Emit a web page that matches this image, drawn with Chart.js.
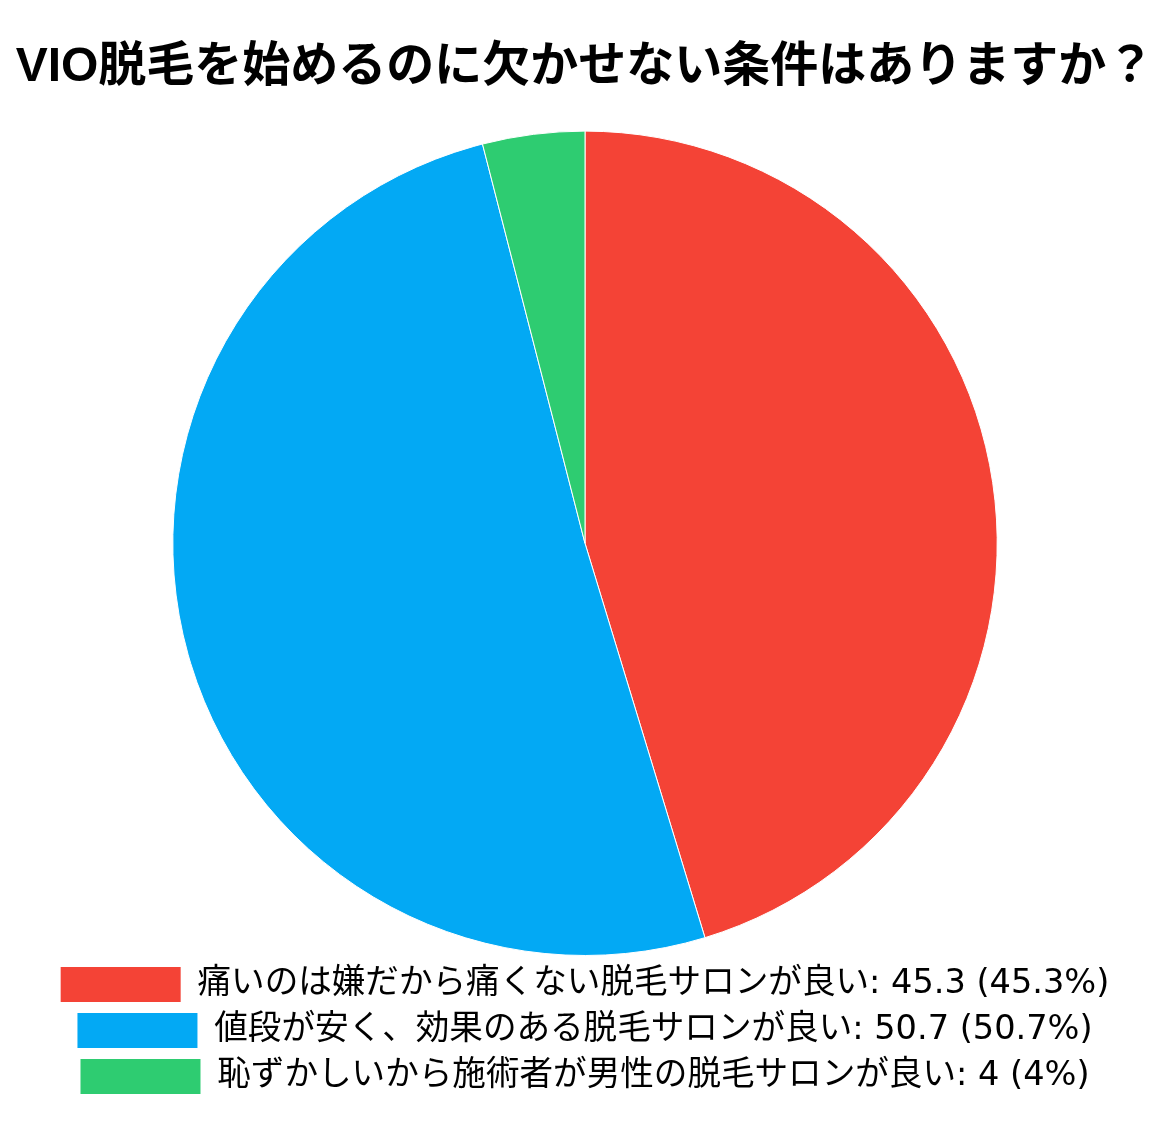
<!DOCTYPE html>
<html>
<head>
<meta charset="utf-8">
<script src="https://cdn.jsdelivr.net/npm/chart.js@4.4.0/dist/chart.umd.min.js"></script>
<style>
    html, body { margin: 0; padding: 0; background: #fff; }
    #wrap { width: 1170px; height: 1134px; }
</style>
</head>
<body>
<div id="wrap"><canvas id="pieChart" width="1170" height="1134"></canvas></div>
<script>
/* data */
const titleText = 'VIO脱毛を始めるのに欠かせない条件はありますか？';
const categories = [
    '痛いのは嫌だから痛くない脱毛サロンが良い',
    '値段が安く、効果のある脱毛サロンが良い',
    '恥ずかしいから施術者が男性の脱毛サロンが良い'
];
const values = [45.3, 50.7, 4];
const colours = ['#F44336', '#03A9F4', '#2ECC71'];

const TITLE_FONT = '"Liberation Sans", "Noto Sans CJK JP", sans-serif';
const LEGEND_FONT = '"DejaVu Sans", "Noto Sans CJK JP", sans-serif';

function legendLabels(chart) {
    const data = chart.data.datasets[0].data;
    const total = data.reduce((a, b) => a + b, 0);
    return chart.data.labels.map((label, i) => {
        const pct = Math.round(data[i] / total * 1000) / 10;
        return {
            text: `${label}: ${data[i]} (${pct}%)`,
            fillStyle: colours[i],
            strokeStyle: colours[i],
            lineWidth: 0,
            hidden: false,
            index: i
        };
    });
}

const ctx = document.getElementById('pieChart').getContext('2d');
new Chart(ctx, {
    type: 'pie',
    data: {
        labels: categories,
        datasets: [{
            data: values,
            backgroundColor: colours,
            borderColor: '#ffffff',
            borderWidth: 1
        }]
    },
    options: {
        responsive: false,
        animation: false,
        layout: { padding: { top: 0, bottom: 30 } },
        plugins: {
            title: {
                display: true,
                text: titleText,
                color: '#000',
                font: { family: TITLE_FONT, size: 48, weight: 'bold' },
                padding: { top: 39, bottom: 34 }
            },
            legend: {
                position: 'bottom',
                labels: {
                    generateLabels: legendLabels,
                    boxWidth: 120,
                    boxHeight: 35,
                    padding: 11,
                    color: '#111',
                    font: { family: LEGEND_FONT, size: 33.6 }
                }
            },
            tooltip: { enabled: false }
        }
    }
});
</script>
</body>
</html>
